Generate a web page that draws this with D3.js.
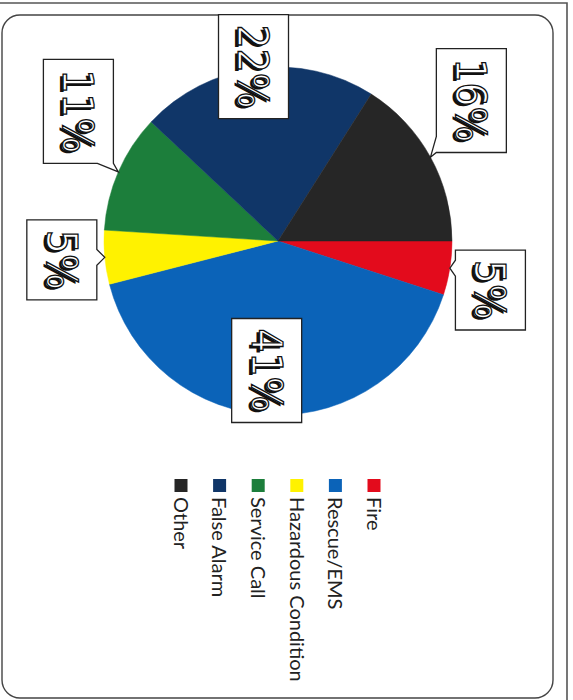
<!DOCTYPE html>
<html lang="en">
<head>
  <meta charset="UTF-8">
  <title>Incident Types</title>
  <script src="https://d3js.org/d3.v7.min.js"></script>
  <style>
    body {
      margin: 0;
      padding: 0;
      background: #fff;
    }
    svg { display: block; }
    .legend-text {
      font: 20px Lato, "Liberation Sans", sans-serif;
      fill: #222;
    }
    .pct {
      font-family: "DejaVu Sans Condensed", "DejaVu Sans", sans-serif;
      font-size: 42px;
    }
  </style>
</head>
<body>
  <script>
    const categories = ["Fire", "Rescue/EMS", "Hazardous Condition", "Service Call", "False Alarm", "Other"];
    const percents = [5, 41, 5, 11, 22, 16];
    const colours = ["#E30B1C", "#0B63B8", "#FFF200", "#1C7E3B", "#103668", "#262626"];

    // where each data label box sits (distance from centre, angle in degrees, clockwise from 12 o'clock)
    const labelSpots = [
      { r: 218, a: 103 },
      { r: 130, a: 185 },
      { r: 217, a: 265 },
      { r: 238, a: 303 },
      { r: 176, a: 352 },
      { r: 239, a: 54 }
    ];

    const width = 573, height = 700;
    const cx = 278, cy = 241, radius = 174;

    const svg = d3.select("body").append("svg")
      .attr("width", width)
      .attr("height", height);

    // scanned page frame
    svg.append("path")
      .attr("d", `M0,3 H567 V${height}`)
      .attr("fill", "none")
      .attr("stroke", "#555")
      .attr("stroke-width", 1.6);

    svg.append("rect")
      .attr("x", 2).attr("y", 15)
      .attr("width", 551).attr("height", 683)
      .attr("rx", 18).attr("ry", 18)
      .attr("fill", "#fff")
      .attr("stroke", "#444")
      .attr("stroke-width", 1.4);

    const data = categories.map((name, i) => ({ name, value: percents[i], colour: colours[i], spot: labelSpots[i] }));

    const pie = d3.pie()
      .sort(null)
      .value(d => d.value)
      .startAngle(Math.PI / 2)
      .endAngle(Math.PI / 2 + 2 * Math.PI);

    const arcs = pie(data);
    const arc = d3.arc().innerRadius(0).outerRadius(radius);

    const pieG = svg.append("g").attr("transform", `translate(${cx},${cy})`);
    pieG.selectAll("path")
      .data(arcs)
      .join("path")
      .attr("d", arc)
      .attr("fill", d => d.data.colour)
      .attr("stroke", d => d.data.colour)
      .attr("stroke-width", 0.5);

    // callout-shaped label boxes
    function calloutPath(x0, y0, x1, y1, tip) {
      const dl = x0 - tip[0], dr = tip[0] - x1, dt = y0 - tip[1], db = tip[1] - y1;
      const m = Math.max(dl, dr, dt, db);
      const w = 16;
      const clampX = v => Math.max(x0 + w / 2, Math.min(x1 - w / 2, v));
      const clampY = v => Math.max(y0 + w / 2, Math.min(y1 - w / 2, v));
      const pts = [[x0, y0]];
      if (m > 0 && m === dt) { const c = clampX(tip[0]); pts.push([c - w / 2, y0], tip, [c + w / 2, y0]); }
      pts.push([x1, y0]);
      if (m > 0 && m === dr) { const c = clampY(tip[1]); pts.push([x1, c - w / 2], tip, [x1, c + w / 2]); }
      pts.push([x1, y1]);
      if (m > 0 && m === db) { const c = clampX(tip[0]); pts.push([c + w / 2, y1], tip, [c - w / 2, y1]); }
      pts.push([x0, y1]);
      if (m > 0 && m === dl) { const c = clampY(tip[1]); pts.push([x0, c + w / 2], tip, [x0, c - w / 2]); }
      return "M" + pts.map(p => p.join(",")).join("L") + "Z";
    }

    const labelG = svg.append("g");
    arcs.forEach(d => {
      const a = d.data.spot.a * Math.PI / 180;
      const lx = cx + d.data.spot.r * Math.sin(a);
      const ly = cy - d.data.spot.r * Math.cos(a);
      const mid = (d.startAngle + d.endAngle) / 2;
      const tip = [cx + radius * Math.sin(mid), cy - radius * Math.cos(mid)];
      const txt = d.data.value + "%";

      const g = labelG.append("g");
      const box = g.append("path");

      const tg = g.append("g").attr("transform", `translate(${lx},${ly}) rotate(90)`);
      tg.append("text")
        .attr("class", "pct")
        .attr("x", 2).attr("y", 3)
        .attr("dy", "0.36em")
        .attr("text-anchor", "middle")
        .attr("fill", "#111")
        .text(txt);
      const t = tg.append("text")
        .attr("class", "pct")
        .attr("dy", "0.36em")
        .attr("text-anchor", "middle")
        .attr("fill", "#fff")
        .attr("stroke", "#111")
        .attr("stroke-width", 1.3)
        .text(txt);

      const len = t.node().getComputedTextLength();
      const bw = 70, bh = len + 20;
      const x0 = lx - bw / 2, x1 = lx + bw / 2, y0 = ly - bh / 2, y1 = ly + bh / 2;
      box.attr("d", calloutPath(x0, y0, x1, y1, tip))
        .attr("fill", "#fff")
        .attr("stroke", "#222")
        .attr("stroke-width", 1.3);
    });

    // legend, rotated with the page
    const legendX = d3.scalePoint()
      .domain(categories)
      .range([374, 181]);

    const legend = svg.append("g")
      .selectAll("g")
      .data(data)
      .join("g")
      .attr("transform", d => `translate(${legendX(d.name)},0)`);

    legend.append("rect")
      .attr("x", -6.5).attr("y", 479)
      .attr("width", 13).attr("height", 13)
      .attr("fill", d => d.colour);

    legend.append("text")
      .attr("class", "legend-text")
      .attr("transform", "translate(0,497) rotate(90)")
      .attr("dy", "0.36em")
      .text(d => d.name);
  </script>
</body>
</html>
